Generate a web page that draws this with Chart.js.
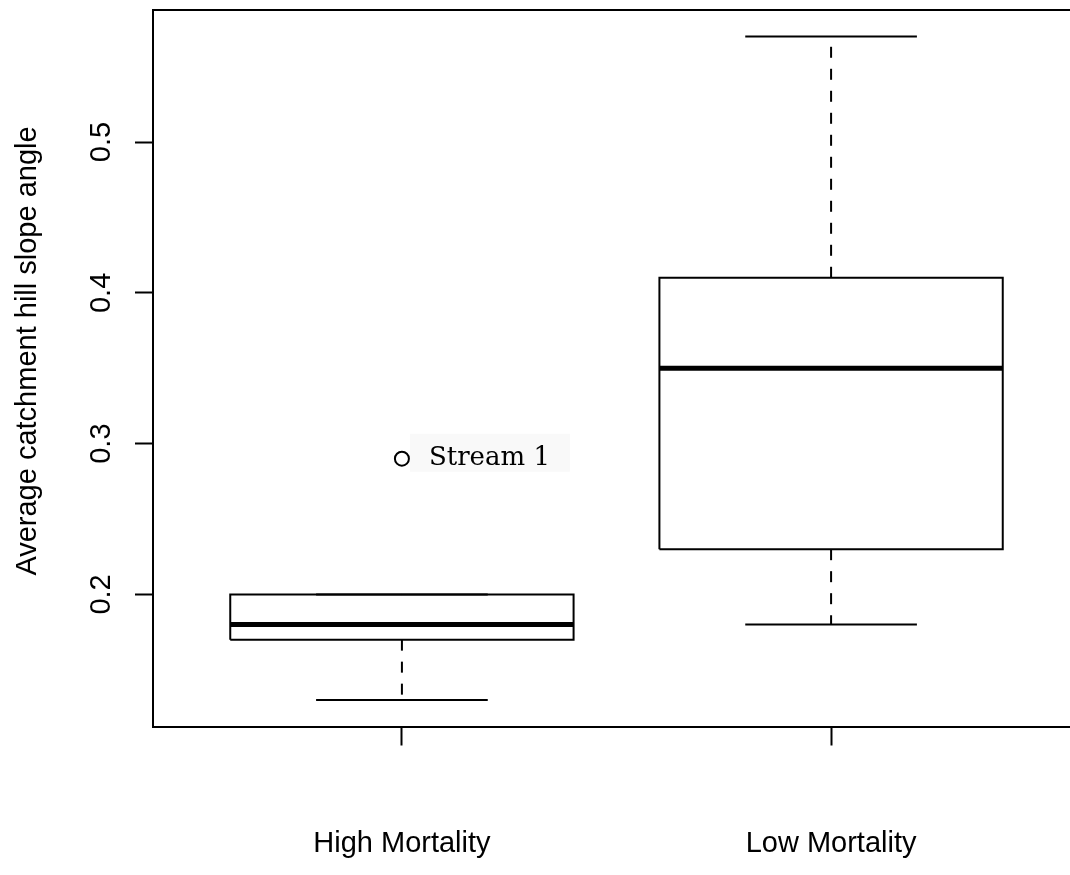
<!DOCTYPE html>
<html>
<head>
<meta charset="utf-8">
<script src="https://cdn.jsdelivr.net/npm/chart.js@4.4.1/dist/chart.umd.min.js"></script>
<style>
  html, body { margin: 0; padding: 0; background: #fff; overflow: hidden; }
  canvas { display: block; }
</style>
</head>
<body>
<canvas id="myChart" width="1090" height="875"></canvas>
<script>
// box plot statistics
const groups = ['High Mortality', 'Low Mortality'];
const whiskerLow = [0.13, 0.18];
const q1 = [0.17, 0.23];
const median = [0.18, 0.35];
const q3 = [0.20, 0.41];
const whiskerHigh = [0.20, 0.57];

const outlierGroup = [1];
const outlierValue = [0.29];
const outlierLabel = ['Stream 1'];

const yTicks = [0.2, 0.3, 0.4, 0.5];
const yTitle = 'Average catchment hill slope angle';

// R style range: 4% padding
const allVals = whiskerLow.concat(whiskerHigh, outlierValue);
const lo = Math.min(...allVals), hi = Math.max(...allVals);
const yMin = lo - 0.04 * (hi - lo), yMax = hi + 0.04 * (hi - lo);
const n = groups.length;
const xMin = 0.5 - 0.04 * n, xMax = n + 0.5 + 0.04 * n;

const BOX = 0.4, CAP = 0.2;
const black = '#000';

function seg(points, width, dash) {
    return {
        type: 'scatter', showLine: true, data: points,
        borderColor: black, borderWidth: width, borderDash: dash || [],
        pointRadius: 0, borderCapStyle: 'butt', borderJoinStyle: 'miter', tension: 0
    };
}

let datasets = [];
groups.forEach(function (g, i) {
    const x = i + 1;
    datasets.push(seg([{x: x, y: q1[i]}, {x: x, y: whiskerLow[i]}], 2, [11, 11]));
    datasets.push(seg([{x: x, y: q3[i]}, {x: x, y: whiskerHigh[i]}], 2, [11, 11]));
    datasets.push(seg([{x: x - CAP, y: whiskerLow[i]}, {x: x + CAP, y: whiskerLow[i]}], 2));
    datasets.push(seg([{x: x - CAP, y: whiskerHigh[i]}, {x: x + CAP, y: whiskerHigh[i]}], 2));
    datasets.push(seg([
        {x: x - BOX, y: q1[i]}, {x: x + BOX, y: q1[i]}, {x: x + BOX, y: q3[i]},
        {x: x - BOX, y: q3[i]}, {x: x - BOX, y: q1[i]}], 2));
    datasets.push(seg([{x: x - BOX, y: median[i]}, {x: x + BOX, y: median[i]}], 5));
});

datasets.push({
    type: 'scatter', data: outlierValue.map((v, k) => ({x: outlierGroup[k], y: v})),
    pointRadius: 7, pointBorderWidth: 2, borderColor: black,
    pointBackgroundColor: 'rgba(0,0,0,0)', backgroundColor: 'rgba(0,0,0,0)'
});

const sans = '"Liberation Sans", Arial, sans-serif';

const rDecor = {
    id: 'rDecor',
    beforeDatasetsDraw(chart) {
        const c = chart.ctx, xs = chart.scales.x, ys = chart.scales.y;
        c.save();
        c.fillStyle = '#f9f9f9';
        outlierValue.forEach(function (v, k) {
            const px = xs.getPixelForValue(outlierGroup[k]), py = ys.getPixelForValue(v);
            c.fillRect(px + 8, py - 25, 160, 38);
        });
        c.restore();
    },
    afterDraw(chart) {
        const c = chart.ctx, a = chart.chartArea, xs = chart.scales.x, ys = chart.scales.y;
        c.save();
        c.strokeStyle = black;
        c.lineWidth = 2;
        c.beginPath();
        c.moveTo(a.left, a.top); c.lineTo(a.right, a.top); c.lineTo(a.right, a.bottom);
        c.stroke();

        c.fillStyle = black;
        c.font = '29px ' + sans;
        c.textAlign = 'center';
        c.textBaseline = 'alphabetic';
        yTicks.forEach(function (t) {
            c.save();
            c.translate(110, ys.getPixelForValue(t));
            c.rotate(-Math.PI / 2);
            c.fillText(t.toFixed(1), 0, 0);
            c.restore();
        });
        c.save();
        c.translate(36, 351);
        c.rotate(-Math.PI / 2);
        c.fillText(yTitle, 0, 0);
        c.restore();

        groups.forEach(function (g, i) {
            c.fillText(g, xs.getPixelForValue(i + 1), 852);
        });

        c.font = '26px "DejaVu Serif", serif';
        c.textAlign = 'left';
        outlierValue.forEach(function (v, k) {
            const px = xs.getPixelForValue(outlierGroup[k]), py = ys.getPixelForValue(v);
            c.fillText(outlierLabel[k], px + 27, py + 6);
        });
        c.restore();
    }
};

const ctx = document.getElementById('myChart');

var myChart = new Chart(ctx, {
    type: 'scatter',
    data: { datasets: datasets },
    options: {
        responsive: false,
        animation: false,
        layout: { padding: { top: 10, right: 10, left: 0, bottom: 0 } },
        plugins: { legend: { display: false }, tooltip: { enabled: false } },
        scales: {
            x: {
                type: 'linear', min: xMin, max: xMax,
                afterBuildTicks: s => { s.ticks = groups.map((g, i) => ({value: i + 1})); },
                afterFit: s => { s.height = 148.5; },
                ticks: { display: false },
                grid: { drawOnChartArea: false, drawTicks: true, tickLength: 19, tickWidth: 2, tickColor: black },
                border: { display: true, color: black, width: 2 }
            },
            y: {
                type: 'linear', min: yMin, max: yMax,
                afterBuildTicks: s => { s.ticks = yTicks.map(v => ({value: v})); },
                afterFit: s => { s.width = 153; },
                ticks: { display: false },
                grid: { drawOnChartArea: false, drawTicks: true, tickLength: 18, tickWidth: 2, tickColor: black },
                border: { display: true, color: black, width: 2 }
            }
        }
    },
    plugins: [rDecor]
});
</script>
</body>
</html>
